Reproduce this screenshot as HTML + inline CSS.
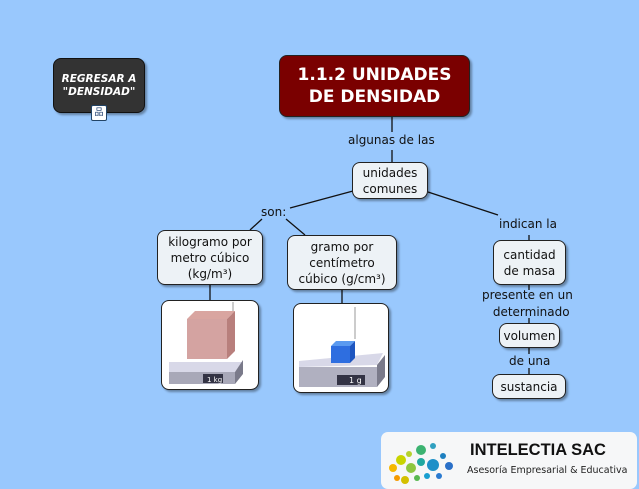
<!DOCTYPE html>
<html><head><meta charset="utf-8"><style>
body{margin:0;width:639px;height:489px;background:#99c8fd;position:relative;overflow:hidden;font-family:"DejaVu Sans",Verdana,sans-serif;}
.n{position:absolute;box-sizing:border-box;background:#edf2f6;border:1.5px solid #222;border-radius:8px;font-size:12px;color:#111;text-align:center;display:flex;align-items:center;justify-content:center;line-height:16px;box-shadow:2px 2px 2px rgba(0,0,0,.35);}
.l{position:absolute;font-size:12px;color:#111;white-space:nowrap;}
svg{position:absolute;left:0;top:0}
</style></head><body>
<svg width="639" height="489">
<g stroke="#111" stroke-width="1.3">
<line x1="392" y1="117" x2="392" y2="132"/>
<line x1="392" y1="150" x2="392" y2="162"/>
<line x1="353" y1="191" x2="290" y2="208"/>
<line x1="262" y1="219" x2="250" y2="230"/>
<line x1="286" y1="219" x2="305" y2="235"/>
<line x1="428" y1="192" x2="498" y2="215"/>
<line x1="529" y1="235" x2="529" y2="240"/>
<line x1="529" y1="285" x2="529" y2="290"/>
<line x1="529" y1="318" x2="529" y2="323"/>
<line x1="529" y1="348" x2="529" y2="354"/>
<line x1="529" y1="368" x2="529" y2="374"/>
<line x1="210" y1="285" x2="210" y2="300"/>
<line x1="342" y1="290" x2="342" y2="303"/>
</g>
</svg>
<div class="n" style="left:53px;top:58px;width:92px;height:55px;background:#333;color:#fff;font-weight:bold;font-style:italic;font-size:10.5px;line-height:13px;border-color:#111">REGRESAR A<br>"DENSIDAD"</div>
<div style="position:absolute;left:91px;top:105px;width:14px;height:14px;background:#fff;border:1px solid #246;border-radius:2px;font-size:9px;text-align:center;line-height:14px;color:#136">品</div>
<div class="n" style="left:279px;top:55px;width:191px;height:62px;background:#7a0000;color:#fff;font-weight:bold;font-size:17px;line-height:22px;border-color:#222">1.1.2 UNIDADES<br>DE DENSIDAD</div>
<div class="l" style="left:348px;top:133px">algunas de las</div>
<div class="n" style="left:352px;top:162px;width:76px;height:37px">unidades<br>comunes</div>
<div class="l" style="left:261px;top:205px">son:</div>
<div class="l" style="left:499px;top:217px">indican la</div>
<div class="n" style="left:157px;top:230px;width:106px;height:55px">kilogramo por<br>metro cúbico<br>(kg/m³)</div>
<div class="n" style="left:287px;top:235px;width:110px;height:55px">gramo por<br>centímetro<br>cúbico (g/cm³)</div>
<div class="n" style="left:493px;top:240px;width:73px;height:45px">cantidad<br>de masa</div>
<div class="l" style="left:482px;top:287px;text-align:center;line-height:17px">presente en un<br>&nbsp;&nbsp;determinado</div>
<div class="n" style="left:499px;top:323px;width:61px;height:25px">volumen</div>
<div class="l" style="left:509px;top:354px">de una</div>
<div class="n" style="left:492px;top:374px;width:74px;height:25px">sustancia</div>
<!-- images -->
<div class="n" style="left:161px;top:300px;width:98px;height:90px;background:#fff">
<svg width="98" height="90" style="left:-1px;top:-1px">
<line x1="72" y1="2" x2="72" y2="22" stroke="#999"/>
<polygon points="8,62 82,62 74,72 8,72" fill="#d8d8e8"/>
<polygon points="8,72 74,72 74,84 8,84" fill="#a8a8b8"/>
<polygon points="74,72 82,60 82,74 74,84" fill="#7a7a8a"/>
<rect x="26" y="19" width="40" height="40" fill="#c98c8a" opacity=".8"/>
<polygon points="26,19 34,11 74,11 66,19" fill="#d9a5a0"/>
<polygon points="66,19 74,11 74,51 66,59" fill="#b87f7c"/>
<rect x="42" y="74" width="20" height="9" fill="#334"/>
<text x="46" y="82" font-size="7" fill="#fff" font-family="DejaVu Sans">1 kg</text>
</svg></div>
<div class="n" style="left:293px;top:303px;width:96px;height:90px;background:#fff">
<svg width="96" height="90" style="left:-1px;top:-1px">
<line x1="62" y1="4" x2="62" y2="36" stroke="#999"/>
<polygon points="6,58 90,50 84,62 6,64" fill="#d8d8e8"/>
<polygon points="6,64 84,64 84,84 6,84" fill="#b0b0c0"/>
<polygon points="84,62 92,52 92,74 84,84" fill="#7a7a8a"/>
<rect x="38" y="43" width="19" height="17" fill="#2e6ee0"/>
<polygon points="38,43 43,38 62,38 57,43" fill="#5a9af0"/>
<polygon points="57,43 62,38 62,55 57,60" fill="#1e56c0"/>
<rect x="44" y="72" width="28" height="10" fill="#334"/>
<text x="56" y="80" font-size="8" fill="#fff" font-family="DejaVu Sans">1 g</text>
</svg></div>
<!-- logo -->
<div style="position:absolute;left:381px;top:432px;width:256px;height:57px;background:#f6f7f8;border-radius:7px;">
<svg width="80" height="57">
<g>
<circle cx="12" cy="36" r="4" fill="#f5b800"/><circle cx="20" cy="28" r="5" fill="#c8d400"/><circle cx="16" cy="46" r="3" fill="#f59a00"/>
<circle cx="30" cy="36" r="5" fill="#8cc63e"/><circle cx="28" cy="22" r="3" fill="#b6d22e"/><circle cx="40" cy="18" r="5" fill="#3cb371"/>
<circle cx="40" cy="30" r="4" fill="#20a8a0"/><circle cx="52" cy="33" r="6" fill="#1e90c8"/><circle cx="62" cy="24" r="3" fill="#1e80c0"/>
<circle cx="46" cy="44" r="3" fill="#1a9fd0"/><circle cx="58" cy="44" r="3" fill="#2a7ad0"/><circle cx="68" cy="34" r="4" fill="#2a70c8"/>
<circle cx="24" cy="48" r="4" fill="#d4c000"/><circle cx="52" cy="14" r="3" fill="#30a0c0"/><circle cx="36" cy="46" r="3" fill="#58b850"/>
</g></svg>
<div style="position:absolute;left:89px;top:9px;font-family:'Liberation Sans',sans-serif;font-weight:bold;font-size:16.5px;color:#111">INTELECTIA SAC</div>
<div style="position:absolute;left:86px;top:33px;font-size:9.5px;color:#222">Asesoría Empresarial &amp; Educativa</div>
</div>
</body></html>
